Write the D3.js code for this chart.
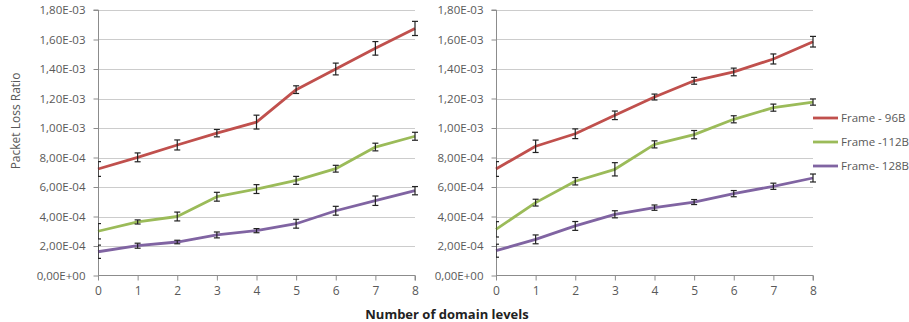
<!DOCTYPE html>
<html>
<head>
<meta charset="utf-8">
<script src="https://cdn.jsdelivr.net/npm/d3@7"></script>
<style>
  body { margin: 0; background: #fff; }
  svg { display: block; font-family: "Open Sans", sans-serif; }
</style>
</head>
<body>
<svg id="chart" width="909" height="322"></svg>
<script>
// ---- data ----
const levels = [0, 1, 2, 3, 4, 5, 6, 7, 8];
const yTickValues = [0, 2e-4, 4e-4, 6e-4, 8e-4, 1e-3, 1.2e-3, 1.4e-3, 1.6e-3, 1.8e-3];
const yTickLabels = ["0,00E+00", "2,00E-04", "4,00E-04", "6,00E-04", "8,00E-04",
                     "1,00E-03", "1,20E-03", "1,40E-03", "1,60E-03", "1,80E-03"];
const seriesNames = ["Frame - 96B", "Frame -112B", "Frame- 128B"];
const seriesColors = ["#C0504D", "#9BBB59", "#8064A2"];

// left panel
const left96 = [7.22e-4, 8.01e-4, 8.85e-4, 9.65e-4, 1.04e-3, 1.26e-3, 1.40e-3, 1.54e-3, 1.675e-3];
const left96Err = [0.5e-4, 0.3e-4, 0.34e-4, 0.25e-4, 0.47e-4, 0.26e-4, 0.4e-4, 0.46e-4, 0.48e-4];
const left112 = [3.0e-4, 3.63e-4, 4.0e-4, 5.34e-4, 5.86e-4, 6.45e-4, 7.24e-4, 8.71e-4, 9.44e-4];
const left112Err = [0.52e-4, 0.14e-4, 0.3e-4, 0.3e-4, 0.3e-4, 0.27e-4, 0.23e-4, 0.26e-4, 0.27e-4];
const left128 = [1.61e-4, 2.02e-4, 2.27e-4, 2.75e-4, 3.04e-4, 3.51e-4, 4.39e-4, 5.07e-4, 5.75e-4];
const left128Err = [0.45e-4, 0.17e-4, 0.12e-4, 0.2e-4, 0.14e-4, 0.3e-4, 0.3e-4, 0.32e-4, 0.28e-4];

// right panel
const right96 = [7.22e-4, 8.76e-4, 9.61e-4, 1.086e-3, 1.21e-3, 1.32e-3, 1.38e-3, 1.468e-3, 1.585e-3];
const right96Err = [0.5e-4, 0.42e-4, 0.33e-4, 0.29e-4, 0.2e-4, 0.23e-4, 0.26e-4, 0.34e-4, 0.36e-4];
const right112 = [3.13e-4, 4.94e-4, 6.39e-4, 7.2e-4, 8.89e-4, 9.55e-4, 1.059e-3, 1.138e-3, 1.176e-3];
const right112Err = [0.52e-4, 0.23e-4, 0.25e-4, 0.45e-4, 0.24e-4, 0.28e-4, 0.24e-4, 0.24e-4, 0.21e-4];
const right128 = [1.68e-4, 2.45e-4, 3.36e-4, 4.15e-4, 4.6e-4, 4.98e-4, 5.55e-4, 6.05e-4, 6.61e-4];
const right128Err = [0.44e-4, 0.3e-4, 0.3e-4, 0.24e-4, 0.18e-4, 0.17e-4, 0.21e-4, 0.21e-4, 0.27e-4];

const xTitle = "Number of domain levels";
const yTitle = "Packet Loss Ratio";

// ---- drawing ----
const svg = d3.select("#chart");
const yTop = 10, yBottom = 275.5;
const y = d3.scaleLinear().domain([0, 1.8e-3]).range([yBottom, yTop]);

const panels = [
  { x0: 98, x1: 415, data: [[left96, left96Err], [left112, left112Err], [left128, left128Err]] },
  { x0: 496, x1: 813, data: [[right96, right96Err], [right112, right112Err], [right128, right128Err]] }
];

const gridColor = "#cccccc";
const axisColor = "#8c8c8c";
const textColor = "#595959";

panels.forEach((p, pi) => {
  const x = d3.scaleLinear().domain([0, 8]).range([p.x0, p.x1]);
  const g = svg.append("g");

  const clipId = "clip" + pi;
  svg.append("clipPath").attr("id", clipId)
    .append("rect").attr("x", p.x0).attr("y", 0).attr("width", p.x1 - p.x0 + 20).attr("height", 322);

  // gridlines
  g.selectAll(".grid").data(yTickValues.filter(v => v > 0)).join("line")
    .attr("x1", p.x0).attr("x2", p.x1)
    .attr("y1", d => Math.round(y(d)) + 0.5).attr("y2", d => Math.round(y(d)) + 0.5)
    .attr("stroke", gridColor).attr("stroke-width", 1);

  // y axis
  const yAxis = d3.axisLeft(y).tickValues(yTickValues)
    .tickFormat((d, i) => yTickLabels[i]).tickSize(5).tickPadding(8);
  const ya = g.append("g").attr("transform", `translate(${p.x0 + 0.5},0)`).call(yAxis);
  ya.select(".domain").attr("stroke", axisColor).attr("d", `M-5,${yTop}H0V${yBottom}`);
  ya.selectAll(".tick line").attr("stroke", axisColor);
  ya.selectAll(".tick text").attr("fill", textColor).style("font-size", "11.5px")
    .style("font-family", "'Open Sans', sans-serif");

  // x axis
  const xAxis = d3.axisBottom(x).tickValues(levels).tickFormat(d => d).tickSize(5).tickPadding(6);
  const xa = g.append("g").attr("transform", `translate(0,${yBottom})`).call(xAxis);
  xa.select(".domain").attr("stroke", axisColor).attr("d", `M${p.x0},0H${p.x1}V5`);
  xa.selectAll(".tick line").attr("stroke", axisColor);
  xa.selectAll(".tick text").attr("fill", textColor).style("font-size", "12px")
    .style("font-family", "'Open Sans', sans-serif");

  // lines
  const line = d3.line().x((d, i) => x(levels[i])).y(d => y(d));
  p.data.forEach(([vals, errs], si) => {
    g.append("path").datum(vals).attr("d", line)
      .attr("fill", "none").attr("stroke", seriesColors[si])
      .attr("stroke-width", 2.8).attr("stroke-linejoin", "round");
  });

  // error bars
  const eg = g.append("g").attr("clip-path", `url(#${clipId})`);
  p.data.forEach(([vals, errs]) => {
    const pts = vals.map((v, i) => ({ x: x(levels[i]), v, e: errs[i] }));
    const b = eg.selectAll(null).data(pts).join("g");
    b.append("line").attr("x1", d => d.x).attr("x2", d => d.x)
      .attr("y1", d => y(d.v + d.e)).attr("y2", d => y(d.v - d.e))
      .attr("stroke", "#222").attr("stroke-width", 1.2);
    b.append("line").attr("x1", d => d.x - 3).attr("x2", d => d.x + 3)
      .attr("y1", d => y(d.v + d.e)).attr("y2", d => y(d.v + d.e))
      .attr("stroke", "#222").attr("stroke-width", 1.2);
    b.append("line").attr("x1", d => d.x - 3).attr("x2", d => d.x + 3)
      .attr("y1", d => y(d.v - d.e)).attr("y2", d => y(d.v - d.e))
      .attr("stroke", "#222").attr("stroke-width", 1.2);
  });
});

// legend
const lg = svg.append("g");
const legendY = [118, 142, 166];
seriesNames.forEach((name, i) => {
  lg.append("line").attr("x1", 813).attr("x2", 838)
    .attr("y1", legendY[i]).attr("y2", legendY[i])
    .attr("stroke", seriesColors[i]).attr("stroke-width", 2.8);
  lg.append("text").attr("x", 841).attr("y", legendY[i]).attr("dy", "0.35em")
    .attr("fill", textColor).style("font-size", "11.5px").text(name);
});

// axis titles
svg.append("text").attr("x", 447).attr("y", 319).attr("text-anchor", "middle")
  .style("font-size", "13px").style("font-weight", "bold").attr("fill", "#222")
  .text(xTitle);
svg.append("text").attr("transform", "translate(20,121) rotate(-90)")
  .attr("text-anchor", "middle").style("font-size", "12px").attr("fill", textColor)
  .text(yTitle);
</script>
</body>
</html>
